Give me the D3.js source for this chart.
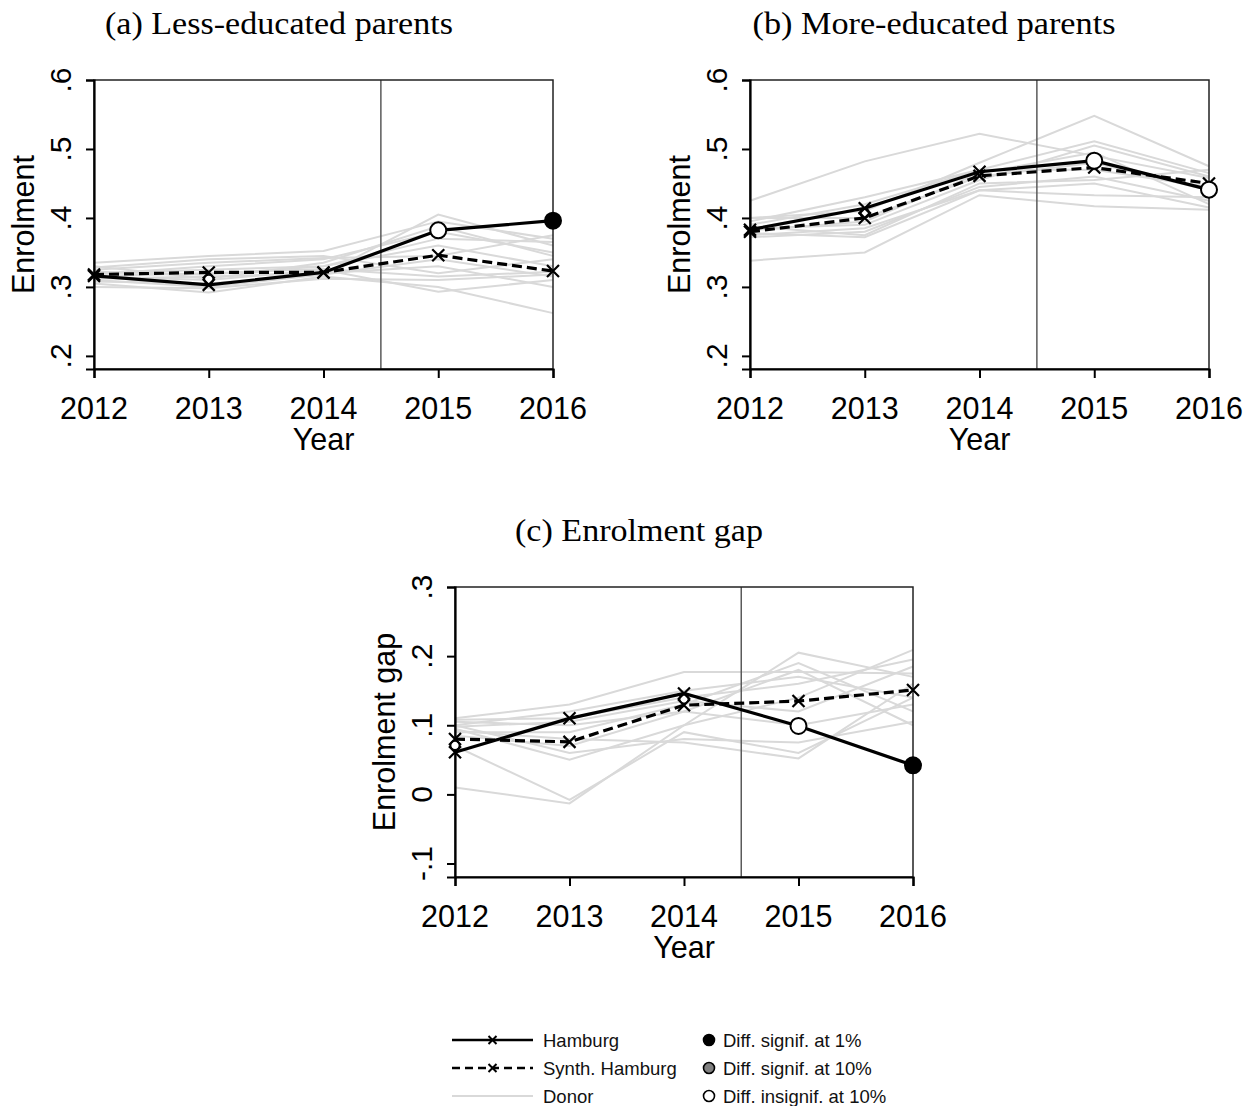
<!DOCTYPE html>
<html>
<head>
<meta charset="utf-8">
<script src="https://cdn.jsdelivr.net/npm/d3@7"></script>
<style>
html,body{margin:0;padding:0;background:#fff;}
svg{display:block;}
</style>
</head>
<body>
<svg id="chart" width="1253" height="1106"></svg>
<script>
// ---------------- DATA ----------------
const years = [2012, 2013, 2014, 2015, 2016];
const treatYear = 2014.5;

// Panel (a) Less-educated parents
const hamburgA = [0.316, 0.303, 0.321, 0.382, 0.396];
const synthA   = [0.318, 0.321, 0.321, 0.346, 0.323];
const sigA     = [null, null, null, "insig", "sig1"];
const smallCircA = [[2013, 0.311]];
const donorsA = [
  [0.335, 0.345, 0.352, 0.395, 0.370],
  [0.310, 0.300, 0.318, 0.405, 0.360],
  [0.318, 0.330, 0.340, 0.380, 0.350],
  [0.305, 0.292, 0.315, 0.300, 0.262],
  [0.322, 0.318, 0.330, 0.370, 0.365],
  [0.312, 0.315, 0.320, 0.330, 0.300],
  [0.328, 0.340, 0.345, 0.320, 0.340],
  [0.315, 0.310, 0.325, 0.293, 0.310],
  [0.308, 0.305, 0.318, 0.340, 0.315],
  [0.320, 0.325, 0.330, 0.360, 0.330],
  [0.300, 0.298, 0.312, 0.310, 0.318],
  [0.325, 0.335, 0.342, 0.345, 0.375],
  [0.316, 0.320, 0.326, 0.315, 0.322],
  [0.330, 0.312, 0.335, 0.388, 0.345]
];

// Panel (b) More-educated parents
const hamburgB = [0.383, 0.414, 0.467, 0.483, 0.441];
const synthB   = [0.380, 0.400, 0.461, 0.473, 0.450];
const sigB     = [null, null, null, "insig", "insig"];
const smallCircB = [[2013, 0.407]];
const donorsB = [
  [0.425, 0.482, 0.522, 0.490, 0.458],
  [0.338, 0.350, 0.433, 0.417, 0.412],
  [0.400, 0.410, 0.480, 0.548, 0.475],
  [0.390, 0.420, 0.470, 0.511, 0.465],
  [0.385, 0.390, 0.455, 0.505, 0.460],
  [0.378, 0.372, 0.440, 0.433, 0.430],
  [0.395, 0.430, 0.470, 0.470, 0.445],
  [0.400, 0.400, 0.460, 0.480, 0.440],
  [0.372, 0.380, 0.445, 0.460, 0.425],
  [0.382, 0.395, 0.465, 0.495, 0.420],
  [0.388, 0.375, 0.450, 0.455, 0.470],
  [0.375, 0.385, 0.440, 0.450, 0.415]
];

// Panel (c) Enrolment gap
const hamburgC = [0.061, 0.110, 0.146, 0.099, 0.042];
const synthC   = [0.080, 0.076, 0.129, 0.135, 0.151];
const sigC     = [null, null, null, "insig", "sig1"];
const smallCircC = [[2012, 0.071], [2014, 0.138]];
const donorsC = [
  [0.010, -0.013, 0.100, 0.205, 0.170],
  [0.070, -0.008, 0.090, 0.060, 0.140],
  [0.110, 0.130, 0.177, 0.177, 0.175],
  [0.105, 0.100, 0.120, 0.180, 0.100],
  [0.100, 0.060, 0.080, 0.075, 0.105],
  [0.095, 0.050, 0.100, 0.140, 0.209],
  [0.090, 0.090, 0.130, 0.190, 0.120],
  [0.108, 0.110, 0.140, 0.160, 0.195],
  [0.085, 0.070, 0.120, 0.100, 0.130],
  [0.100, 0.120, 0.150, 0.170, 0.140],
  [0.092, 0.080, 0.075, 0.052, 0.160],
  [0.098, 0.105, 0.135, 0.120, 0.185]
];

const yTicksAB = [0.2, 0.3, 0.4, 0.5, 0.6];
const yTickLabelsAB = [".2", ".3", ".4", ".5", ".6"];
const yTicksC = [-0.1, 0, 0.1, 0.2, 0.3];
const yTickLabelsC = ["-.1", "0", ".1", ".2", ".3"];

const titles = ["(a) Less-educated parents", "(b) More-educated parents", "(c) Enrolment gap"];
const yLabels = ["Enrolment", "Enrolment", "Enrolment gap"];
const xLabel = "Year";

const legendLines = ["Hamburg", "Synth. Hamburg", "Donor"];
const legendSig = ["Diff. signif. at 1%", "Diff. signif. at 10%", "Diff. insignif. at 10%"];
const sigFill = {sig1: "#000000", sig10: "#808080", insig: "#ffffff"};

// ---------------- DRAW ----------------
const svg = d3.select("#chart");
const sans = "'Liberation Sans', Arial, Helvetica, sans-serif";
const serif = "'Liberation Serif', 'Times New Roman', serif";

function panel(cfg) {
  const {left, right, top, bottom, yDomain, yTicks, yTickLabels, hamburg, synth, sig, donors, smallCirc, title, titleX, titleY, titleW, yLabel} = cfg;
  const x = d3.scaleLinear().domain([2012, 2016]).range([left, right]);
  const y = d3.scaleLinear().domain(yDomain).range([bottom, top]);
  const g = svg.append("g");

  // title
  g.append("text").attr("x", titleX).attr("y", titleY)
    .attr("text-anchor", "middle").attr("font-family", serif)
    .attr("font-size", 31).attr("fill", "#000")
    .attr("textLength", titleW).attr("lengthAdjust", "spacingAndGlyphs").text(title);

  // donors
  const line = d3.line().x((d, i) => x(years[i])).y(d => y(d));
  g.append("g").selectAll("path").data(donors).join("path")
    .attr("d", d => line(d)).attr("fill", "none")
    .attr("stroke", "#d9d9d9").attr("stroke-width", 2);

  // treatment line
  g.append("line").attr("x1", x(treatYear)).attr("x2", x(treatYear))
    .attr("y1", top).attr("y2", bottom)
    .attr("stroke", "#5a5a5a").attr("stroke-width", 1.5);

  // frame
  g.append("rect").attr("x", left).attr("y", top)
    .attr("width", right - left).attr("height", bottom - top)
    .attr("fill", "none").attr("stroke", "#222").attr("stroke-width", 1.5);

  // axes
  const yAxis = d3.axisLeft(y).tickValues(yTicks).tickSize(8).tickFormat("");
  const ya = g.append("g").attr("transform", `translate(${left},0)`).call(yAxis);
  ya.select(".domain").attr("stroke", "#000").attr("stroke-width", 2.2);
  ya.selectAll(".tick line").attr("stroke", "#000").attr("stroke-width", 2);
  g.append("g").selectAll("text").data(yTicks).join("text")
    .attr("transform", (d) => `translate(${left - 23},${y(d)}) rotate(-90)`)
    .attr("text-anchor", "middle").attr("font-family", sans).attr("font-size", 30)
    .attr("fill", "#000").text((d, i) => yTickLabels[i]);

  const xAxis = d3.axisBottom(x).tickValues(years).tickSize(9).tickFormat("");
  const xa = g.append("g").attr("transform", `translate(0,${bottom})`).call(xAxis);
  xa.select(".domain").attr("stroke", "#000").attr("stroke-width", 2.2);
  xa.selectAll(".tick line").attr("stroke", "#000").attr("stroke-width", 2);
  g.append("g").selectAll("text").data(years).join("text")
    .attr("x", d => x(d)).attr("y", bottom + 50)
    .attr("text-anchor", "middle").attr("font-family", sans).attr("font-size", 30.5)
    .attr("fill", "#000").text(d => d);

  g.append("text").attr("x", (left + right) / 2).attr("y", bottom + 81)
    .attr("text-anchor", "middle").attr("font-family", sans).attr("font-size", 30.5)
    .attr("fill", "#000").text(xLabel);

  g.append("text")
    .attr("transform", `translate(${left - 60},${(top + bottom) / 2}) rotate(-90)`)
    .attr("text-anchor", "middle").attr("font-family", sans).attr("font-size", 30.5)
    .attr("fill", "#000").text(yLabel);

  // synthetic (dashed)
  g.append("path").attr("d", line(synth)).attr("fill", "none")
    .attr("stroke", "#000").attr("stroke-width", 3.2).attr("stroke-dasharray", "10,5");
  // hamburg (solid)
  g.append("path").attr("d", line(hamburg)).attr("fill", "none")
    .attr("stroke", "#000").attr("stroke-width", 3.2);

  // small circles
  g.append("g").selectAll("circle").data(smallCirc).join("circle")
    .attr("cx", d => x(d[0])).attr("cy", d => y(d[1])).attr("r", 4.5)
    .attr("fill", "#fff").attr("stroke", "#000").attr("stroke-width", 1.8);

  const cross = "M-6,-6L6,6M-6,6L6,-6";
  // synth crosses
  g.append("g").selectAll("path").data(synth).join("path")
    .attr("transform", (d, i) => `translate(${x(years[i])},${y(d)})`)
    .attr("d", cross).attr("stroke", "#000").attr("stroke-width", 2.2);
  // hamburg crosses (pre-treatment)
  g.append("g").selectAll("path").data(hamburg.map((v, i) => ({v, i})).filter(o => !sig[o.i])).join("path")
    .attr("transform", o => `translate(${x(years[o.i])},${y(o.v)})`)
    .attr("d", cross).attr("stroke", "#000").attr("stroke-width", 2.2);
  // significance circles
  g.append("g").selectAll("circle").data(hamburg.map((v, i) => ({v, i})).filter(o => sig[o.i])).join("circle")
    .attr("cx", o => x(years[o.i])).attr("cy", o => y(o.v)).attr("r", 8)
    .attr("fill", o => sigFill[sig[o.i]]).attr("stroke", "#000").attr("stroke-width", 2);
}

panel({left: 94, right: 553, top: 80, bottom: 369, yDomain: [0.181, 0.6],
  yTicks: yTicksAB, yTickLabels: yTickLabelsAB, hamburg: hamburgA, synth: synthA, sig: sigA,
  donors: donorsA, smallCirc: smallCircA, title: titles[0], titleX: 279, titleY: 34, titleW: 348, yLabel: yLabels[0]});
panel({left: 750, right: 1209, top: 80, bottom: 369, yDomain: [0.181, 0.6],
  yTicks: yTicksAB, yTickLabels: yTickLabelsAB, hamburg: hamburgB, synth: synthB, sig: sigB,
  donors: donorsB, smallCirc: smallCircB, title: titles[1], titleX: 934, titleY: 34, titleW: 363, yLabel: yLabels[1]});
panel({left: 455, right: 913, top: 587, bottom: 877, yDomain: [-0.1195, 0.3],
  yTicks: yTicksC, yTickLabels: yTickLabelsC, hamburg: hamburgC, synth: synthC, sig: sigC,
  donors: donorsC, smallCirc: smallCircC, title: titles[2], titleX: 639, titleY: 541, titleW: 248, yLabel: yLabels[2]});

// ---------------- LEGEND ----------------
const leg = svg.append("g");
const rowY = d3.scaleOrdinal().domain([0, 1, 2]).range([1040, 1068, 1096]);
const lx0 = 452, lx1 = 533, ltx = 543;
const lineStyles = [
  {stroke: "#000", w: 2.6, dash: null, mark: true},
  {stroke: "#000", w: 2.6, dash: "8,5", mark: true},
  {stroke: "#d9d9d9", w: 2, dash: null, mark: false}
];
legendLines.forEach((name, i) => {
  const yy = rowY(i);
  const st = lineStyles[i];
  leg.append("line").attr("x1", lx0).attr("x2", lx1).attr("y1", yy).attr("y2", yy)
    .attr("stroke", st.stroke).attr("stroke-width", st.w)
    .attr("stroke-dasharray", st.dash);
  if (st.mark) {
    leg.append("path").attr("transform", `translate(${(lx0 + lx1) / 2},${yy})`)
      .attr("d", "M-4,-4L4,4M-4,4L4,-4").attr("stroke", "#000").attr("stroke-width", 2);
  }
  leg.append("text").attr("x", ltx).attr("y", yy + 6.5)
    .attr("font-family", sans).attr("font-size", 18.5).attr("fill", "#111").text(name);
});
const sigKeys = ["sig1", "sig10", "insig"];
legendSig.forEach((name, i) => {
  const yy = rowY(i);
  leg.append("circle").attr("cx", 709).attr("cy", yy).attr("r", 5.5)
    .attr("fill", sigFill[sigKeys[i]]).attr("stroke", "#000").attr("stroke-width", 1.6);
  leg.append("text").attr("x", 723).attr("y", yy + 6.5)
    .attr("font-family", sans).attr("font-size", 18.5).attr("fill", "#111").text(name);
});
</script>
</body>
</html>
